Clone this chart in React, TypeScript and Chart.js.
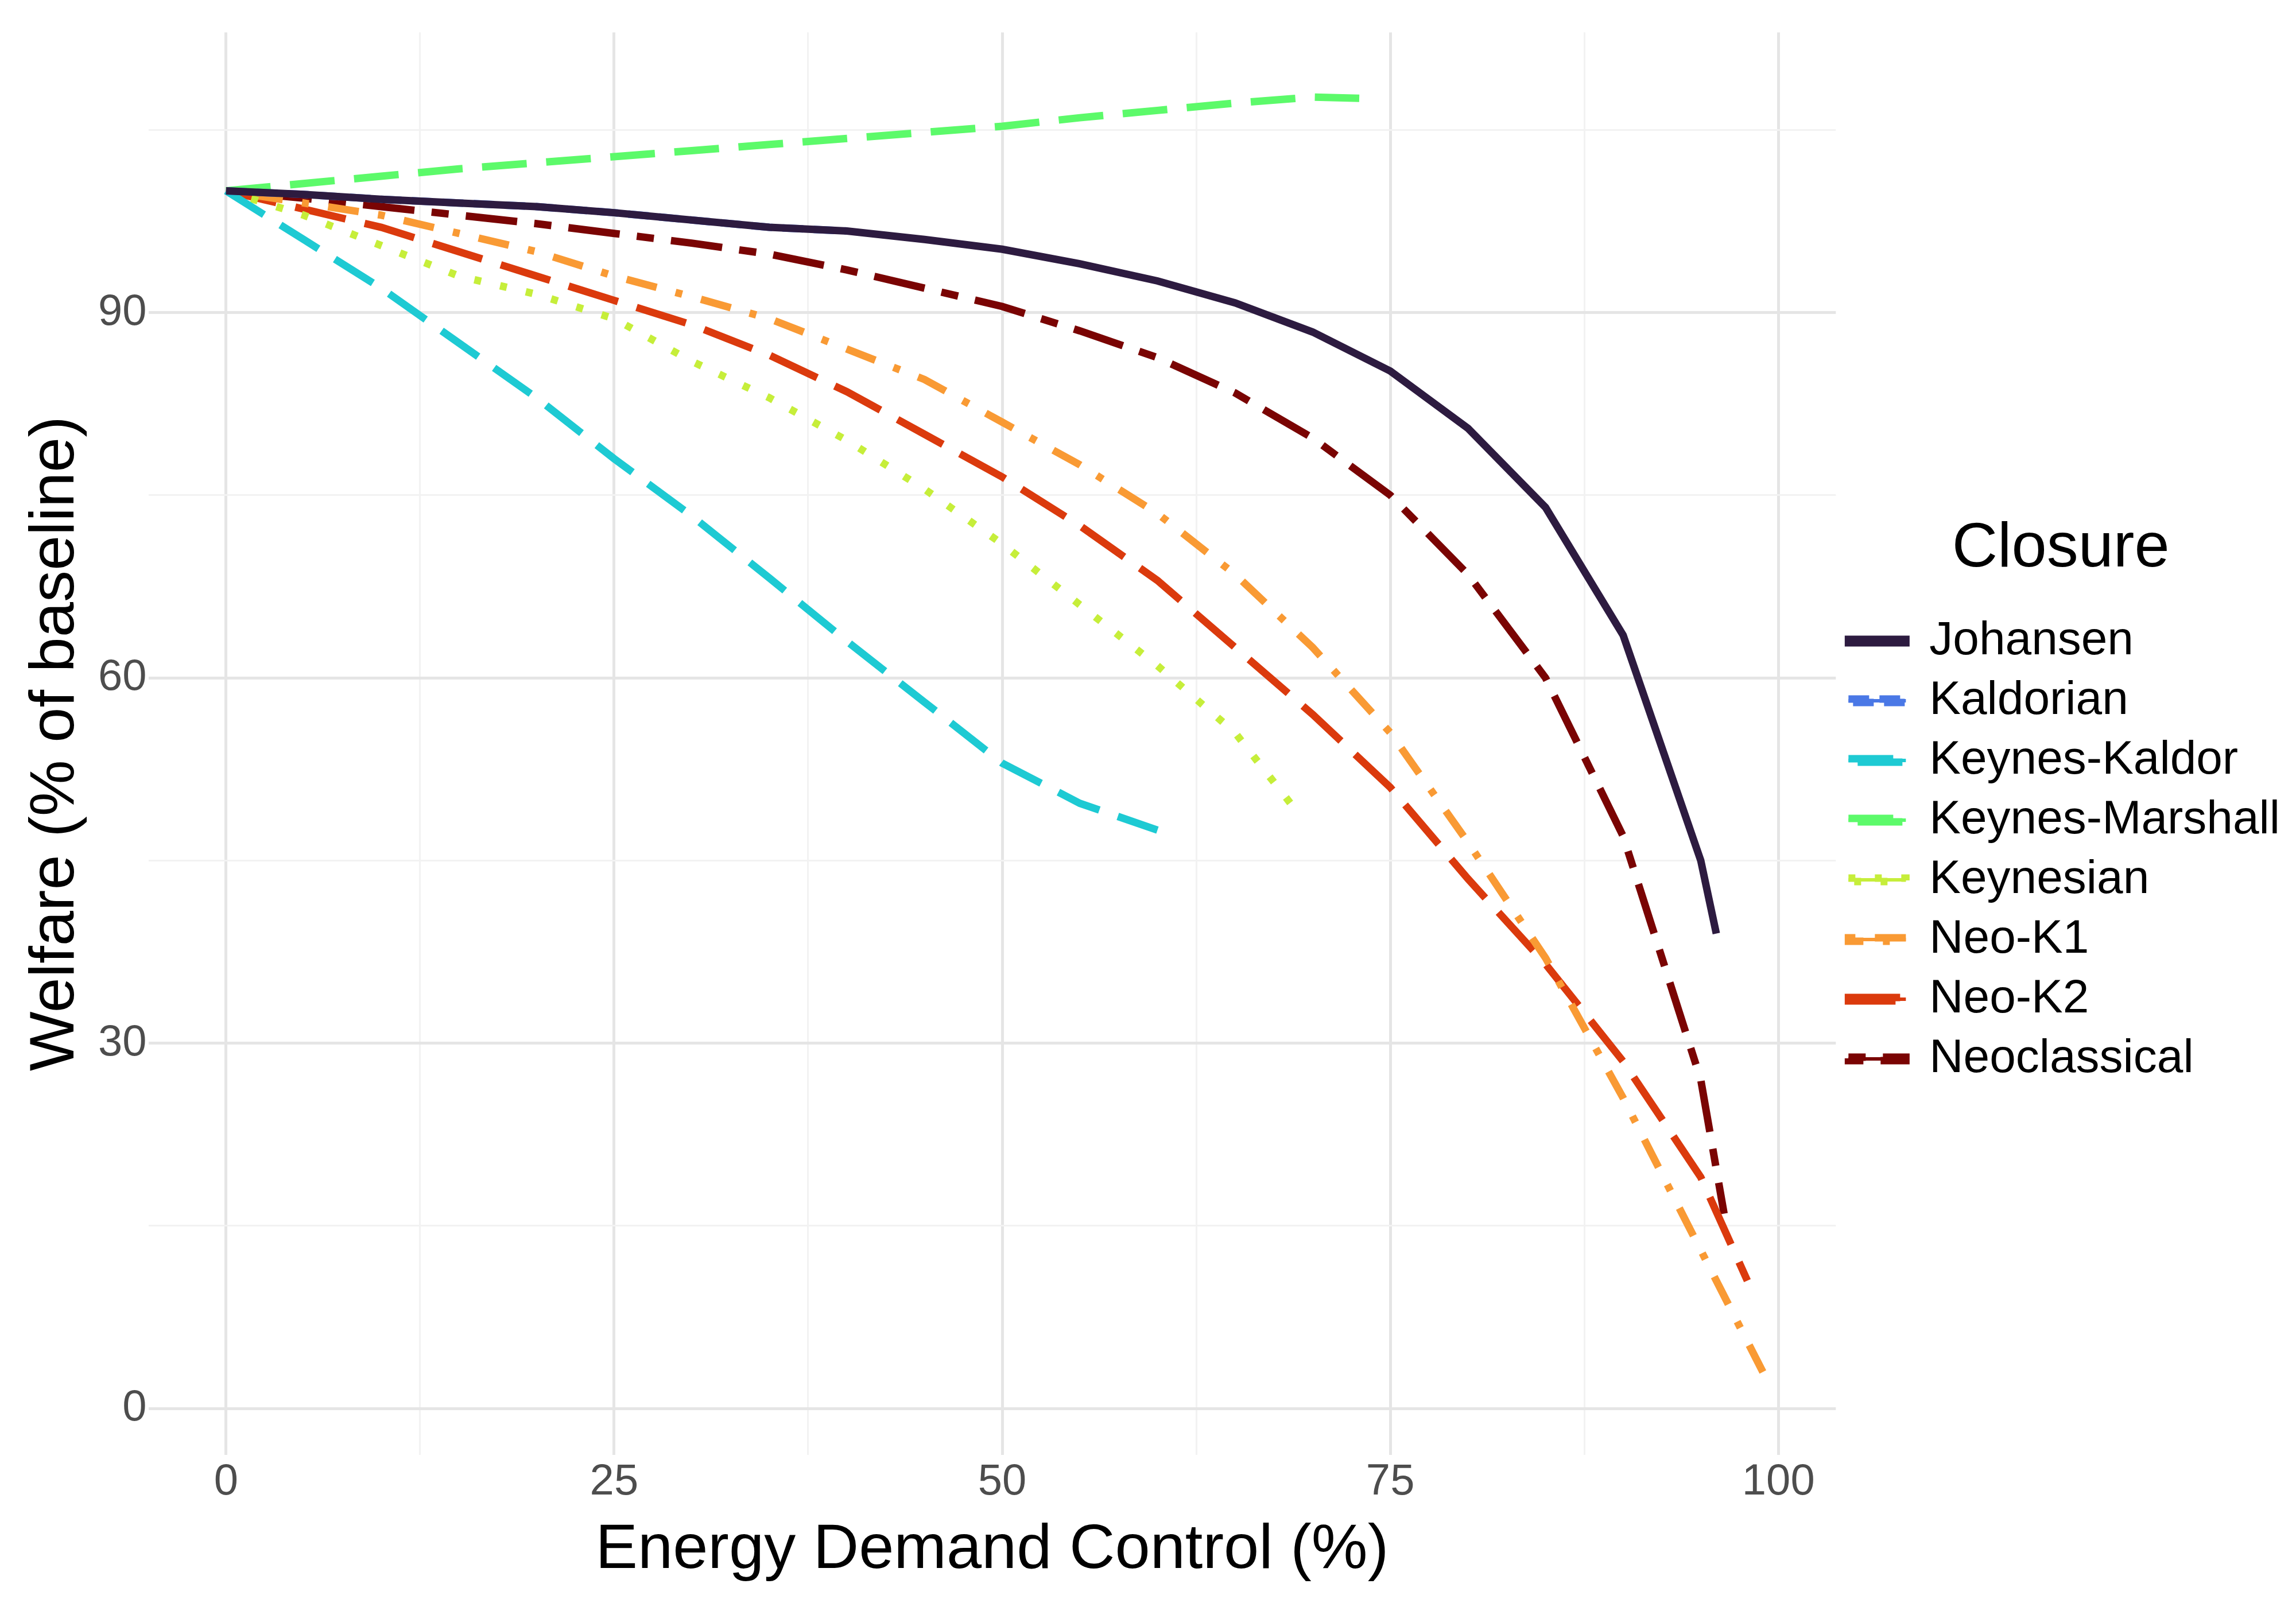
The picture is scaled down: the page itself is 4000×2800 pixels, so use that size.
import React, { useEffect, useRef } from 'react';
import { Chart, registerables } from 'chart.js';

Chart.register(...registerables);

const xsFull = [0, 5, 10, 15, 20, 25, 30, 35, 40, 45, 50, 55, 60, 65, 70, 75, 80, 85, 90, 95];

const johansenX = [...xsFull, 96];
const johansen = [100, 99.7, 99.3, 99, 98.7, 98.2, 97.6, 97, 96.7, 96, 95.2, 94, 92.6, 90.8, 88.4, 85.2, 80.5, 74, 63.5, 45, 39];
const kaldorianX = [0, 5, 10, 15, 20, 25, 30, 35, 40];
const kaldorian = [100, 99.7, 99.3, 99, 98.7, 98.2, 97.6, 97, 96.7];
const keynesKaldorX = [0, 5, 10, 15, 20, 25, 30, 35, 40, 45, 50, 55, 60];
const keynesKaldor = [100, 96, 92, 87.5, 83, 78, 73.3, 68.2, 63, 58, 53, 49.7, 47.5];
const keynesMarshallX = [0, 5, 10, 15, 20, 25, 30, 35, 40, 45, 50, 55, 60, 65, 70, 73];
const keynesMarshall = [100, 100.6, 101.2, 101.8, 102.3, 102.8, 103.3, 103.8, 104.3, 104.8, 105.3, 106, 106.6, 107.2, 107.7, 107.6];
const keynesianX = [0, 5, 10, 15, 20, 25, 30, 35, 40, 45, 50, 55, 60, 65, 69];
const keynesian = [100, 98, 95.5, 93, 91.5, 89.5, 86, 83, 79.5, 75.5, 71, 66, 61, 55.5, 49];
const neoK1X = [...xsFull, 99];
const neoK1 = [100, 99, 98, 96.5, 95, 93, 91.3, 89.5, 87, 84.5, 81, 77.5, 73.5, 68.5, 62.5, 55.5, 46.5, 37, 25.5, 13, 3];
const neoK2X = [...xsFull, 98];
const neoK2 = [100, 98.5, 97, 95, 93, 91, 89, 86.5, 83.5, 80, 76.5, 72.5, 68, 62.5, 57, 51, 43.5, 36.5, 28.5, 19, 10.5];
const neoclassicalX = [...xsFull, 96.5];
const neoclassical = [100, 99.4, 98.7, 98, 97.3, 96.5, 95.7, 94.8, 93.5, 92, 90.5, 88.5, 86.3, 83.4, 79.7, 75, 68.5, 60, 47, 27, 16];

const xTicks = [0, 25, 50, 75, 100];
const yTicks = [0, 30, 60, 90];

const pts = (xs: number[], ys: number[]) => xs.map((x, i) => ({ x, y: ys[i] }));

const series = [
  { label: 'Johansen', data: pts(johansenX, johansen), color: '#2d1b40', dash: [] as number[] },
  { label: 'Kaldorian', data: pts(kaldorianX, kaldorian), color: '#4a78e6', dash: [36, 18] },
  { label: 'Keynes-Kaldor', data: pts(keynesKaldorX, keynesKaldor), color: '#1ecad3', dash: [78, 34] },
  { label: 'Keynes-Marshall', data: pts(keynesMarshallX, keynesMarshall), color: '#5cfa6a', dash: [78, 34] },
  { label: 'Keynesian', data: pts(keynesianX, keynesian), color: '#c6ee3a', dash: [12, 34] },
  { label: 'Neo-K1', data: pts(neoK1X, neoK1), color: '#f99a34', dash: [12, 34, 54, 34] },
  { label: 'Neo-K2', data: pts(neoK2X, neoK2), color: '#db3a0d', dash: [90, 34] },
  { label: 'Neoclassical', data: pts(neoclassicalX, neoclassical), color: '#7a0403', dash: [30, 30, 90, 30] },
];

const font = 'Liberation Sans, Arial, sans-serif';

const App: React.FC = () => {
  const chartRef = useRef<HTMLCanvasElement | null>(null);

  useEffect(() => {
    if (!chartRef.current) return;
    const ctx = chartRef.current.getContext('2d');
    if (!ctx) return;

    const chartInstance = new Chart(ctx, {
      type: 'line',
      data: {
        datasets: series.map((s) => ({
          label: s.label,
          data: s.data,
          borderColor: s.color,
          backgroundColor: s.color,
          borderDash: s.dash,
          borderWidth: 13,
          pointRadius: 0,
          tension: 0,
        })),
      },
      options: {
        responsive: false,
        animation: false,
        layout: { padding: { left: 20, top: 30, right: 10, bottom: 20 } },
        plugins: {
          tooltip: { enabled: false },
          legend: {
            position: 'right',
            align: 'center',
            title: { display: true, text: 'Closure', color: '#000', font: { family: font, size: 110 }, padding: { top: 0, bottom: 20 } },
            labels: {
              color: '#000',
              font: { family: font, size: 82 },
              boxWidth: 100,
              boxHeight: 6,
              padding: 22,
            },
          },
        },
        scales: {
          x: {
            type: 'linear',
            min: -5,
            max: 103.7,
            afterBuildTicks: (axis) => {
              axis.ticks = [0, 12.5, 25, 37.5, 50, 62.5, 75, 87.5, 100].map((v) => ({ value: v }));
            },
            ticks: {
              color: '#4d4d4d',
              font: { family: font, size: 76 },
              callback: (v) => (xTicks.includes(Number(v)) ? String(v) : ''),
            },
            grid: {
              color: (c) => (xTicks.includes(c.tick?.value) ? '#e5e5e5' : '#f2f2f2'),
              lineWidth: (c) => (xTicks.includes(c.tick?.value) ? 5 : 3),
              drawTicks: false,
            },
            border: { display: false },
            title: { display: true, text: 'Energy Demand Control (%)', color: '#000', font: { family: font, size: 110 } },
          },
          y: {
            type: 'linear',
            min: -3.8,
            max: 113,
            afterBuildTicks: (axis) => {
              axis.ticks = [0, 15, 30, 45, 60, 75, 90, 105].map((v) => ({ value: v }));
            },
            ticks: {
              color: '#4d4d4d',
              font: { family: font, size: 76 },
              callback: (v) => (yTicks.includes(Number(v)) ? String(v) : ''),
            },
            grid: {
              color: (c) => (yTicks.includes(c.tick?.value) ? '#e5e5e5' : '#f2f2f2'),
              lineWidth: (c) => (yTicks.includes(c.tick?.value) ? 5 : 3),
              drawTicks: false,
            },
            border: { display: false },
            title: { display: true, text: 'Welfare (% of baseline)', color: '#000', font: { family: font, size: 110 } },
          },
        },
      },
    });

    return () => chartInstance.destroy();
  }, []);

  return <canvas ref={chartRef} width={3984} height={2784} />;
};

export default App;
